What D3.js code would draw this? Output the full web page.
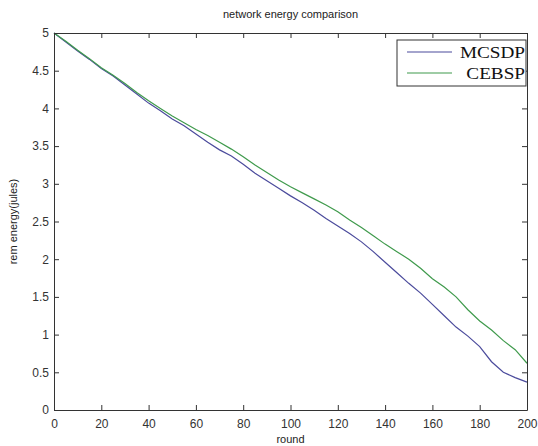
<!DOCTYPE html>
<html>
<head>
<meta charset="utf-8">
<script src="https://cdn.jsdelivr.net/npm/d3@7"></script>
<style>
  body { margin: 0; background: #fff; }
  svg { display: block; }
</style>
</head>
<body>
<div id="chart"></div>
<script>
// rounds sampled every 5
const rounds = [0,5,10,15,20,25,30,35,40,45,50,55,60,65,70,75,80,85,90,95,100,
  105,110,115,120,125,130,135,140,145,150,155,160,165,170,175,180,185,190,195,200];

const mcsdp = [5.00,4.88,4.76,4.65,4.53,4.43,4.31,4.19,4.07,3.97,3.86,3.77,3.66,3.55,3.45,3.37,3.26,3.14,3.04,2.94,2.84,
  2.75,2.65,2.54,2.44,2.34,2.23,2.10,1.96,1.82,1.68,1.55,1.40,1.25,1.10,0.98,0.84,0.64,0.50,0.43,0.37];

const cebsp = [5.00,4.89,4.77,4.66,4.54,4.44,4.33,4.21,4.10,4.00,3.90,3.81,3.72,3.64,3.55,3.46,3.36,3.25,3.15,3.05,2.96,
  2.88,2.80,2.72,2.63,2.52,2.42,2.31,2.20,2.10,2.00,1.88,1.74,1.63,1.50,1.33,1.18,1.06,0.92,0.80,0.62];

const seriesNames = ["MCSDP", "CEBSP"];
const xTicks = [0,20,40,60,80,100,120,140,160,180,200];
const yTicks = [0,0.5,1,1.5,2,2.5,3,3.5,4,4.5,5];

const W = 538, H = 446;
const margin = {left: 54, right: 11, top: 33, bottom: 36};
const colors = ["#4b4b9c", "#3f9a4c"];

const svg = d3.select("#chart").append("svg")
    .attr("width", W).attr("height", H);

const x = d3.scaleLinear().domain([0, 200]).range([margin.left, W - margin.right]);
const y = d3.scaleLinear().domain([0, 5]).range([H - margin.bottom, margin.top]);

const axisColor = "#333";
const font = "'Liberation Sans', Arial, sans-serif";

// lines
const line = d3.line()
    .x((d, i) => x(rounds[i]))
    .y(d => y(d));

[mcsdp, cebsp].forEach((s, k) => {
  svg.append("path")
      .datum(s)
      .attr("fill", "none")
      .attr("stroke", colors[k])
      .attr("stroke-width", 1.2)
      .attr("d", line);
});

// axes (ticks inside, box on)
const gBottom = svg.append("g")
    .attr("transform", `translate(0,${y(0)})`)
    .call(d3.axisBottom(x).tickValues(xTicks).tickSize(-5).tickPadding(9).tickSizeOuter(0));
const gTop = svg.append("g")
    .attr("transform", `translate(0,${y(5)})`)
    .call(d3.axisTop(x).tickValues(xTicks).tickSize(-5).tickFormat("").tickSizeOuter(0));
const gLeft = svg.append("g")
    .attr("transform", `translate(${x(0)},0)`)
    .call(d3.axisLeft(y).tickValues(yTicks).tickSize(-5).tickPadding(5).tickSizeOuter(0).tickFormat(d3.format("")));
const gRight = svg.append("g")
    .attr("transform", `translate(${x(200)},0)`)
    .call(d3.axisRight(y).tickValues(yTicks).tickSize(-5).tickFormat("").tickSizeOuter(0));

[gBottom, gTop, gLeft, gRight].forEach(g => {
  g.selectAll("path, line").attr("stroke", axisColor);
  g.selectAll("text").attr("fill", "#333").style("font-family", font).style("font-size", "12px");
});

// title and labels
svg.append("text")
    .attr("x", (x(0) + x(200)) / 2).attr("y", 18)
    .attr("text-anchor", "middle")
    .style("font-family", font).style("font-size", "11px").attr("fill", "#222")
    .text("network energy comparison");

svg.append("text")
    .attr("x", (x(0) + x(200)) / 2).attr("y", 443)
    .attr("text-anchor", "middle")
    .style("font-family", font).style("font-size", "11px").attr("fill", "#222")
    .text("round");

svg.append("text")
    .attr("transform", `translate(17,${(y(0) + y(5)) / 2}) rotate(-90)`)
    .attr("text-anchor", "middle")
    .style("font-family", font).style("font-size", "11px").attr("fill", "#222")
    .text("rem energy(jules)");

// legend
const lg = svg.append("g");
lg.append("rect")
    .attr("x", 397).attr("y", 40).attr("width", 129).attr("height", 46)
    .attr("fill", "#fff").attr("stroke", axisColor).attr("stroke-width", 1);
seriesNames.forEach((name, k) => {
  const ly = 52 + k * 21;
  lg.append("line")
      .attr("x1", 407).attr("x2", 452).attr("y1", ly).attr("y2", ly)
      .attr("stroke", colors[k]).attr("stroke-width", 1.2);
  // serif legend text, a bit wider than normal like the source
  lg.append("text")
      .attr("transform", `translate(525,${ly + 6}) scale(1.2,1)`)
      .attr("text-anchor", "end")
      .style("font-family", "'Liberation Serif', 'Times New Roman', serif")
      .style("font-size", "16px").attr("fill", "#111")
      .text(name);
});
</script>
</body>
</html>
